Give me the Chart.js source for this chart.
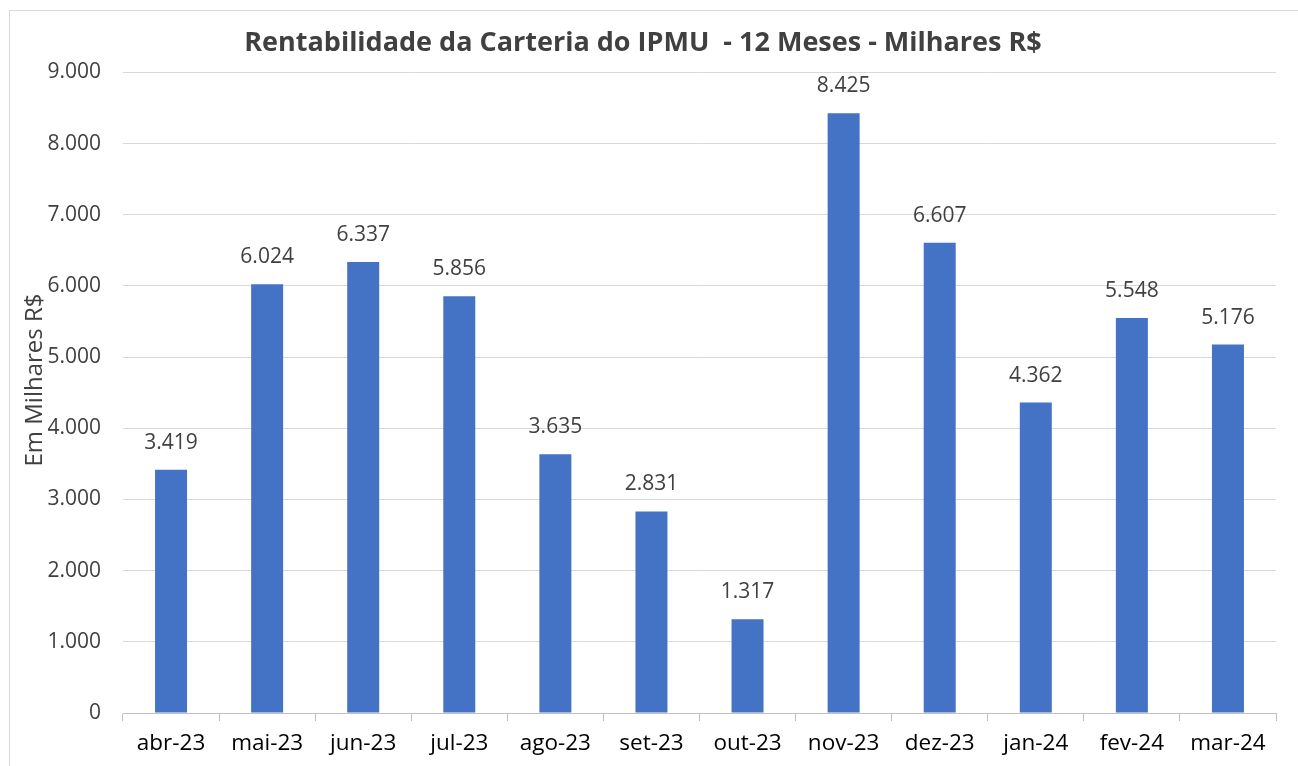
<!DOCTYPE html>
<html>
<head>
<meta charset="utf-8">
<script src="https://cdn.jsdelivr.net/npm/chart.js@4"></script>
<style>
  body{margin:0;background:#fff;overflow:hidden}
  #wrap{position:relative;width:1298px;height:766px}
  #frame{position:absolute;left:9px;top:10px;width:1300px;height:770px;border:1px solid #d9d9d9;box-sizing:border-box}
  canvas{position:absolute;left:0;top:0}
</style>
</head>
<body>
<div id="wrap">
  <div id="frame"></div>
  <canvas id="canvasRent" width="1298" height="766"></canvas>
</div>
<script>

let meses=['abr-23','mai-23','jun-23','jul-23','ago-23','set-23','out-23','nov-23','dez-23','jan-24','fev-24','mar-24']
let rentabilidade=[3419,6024,6337,5856,3635,2831,1317,8425,6607,4362,5548,5176]
let yTicks=[0,1000,2000,3000,4000,5000,6000,7000,8000,9000]

function fmt(v){
    return String(v).replace(/\B(?=(\d{3})+(?!\d))/g,'.')
}

let fonte='"Open Sans", sans-serif'

// valores em cima das barras + titulo do eixo y
let rotulos={
    id:'rotulos',
    afterDatasetsDraw(chart){
        let ctx=chart.ctx
        let meta=chart.getDatasetMeta(0)
        ctx.save()
        ctx.font='21px '+fonte
        ctx.fillStyle='#404040'
        ctx.textAlign='center'
        ctx.textBaseline='middle'
        meta.data.forEach(function(bar,i){
            ctx.fillText(fmt(rentabilidade[i]),bar.x,bar.y-27)
        })
        ctx.font='24px '+fonte
        ctx.translate(35,380)
        ctx.rotate(-Math.PI/2)
        ctx.fillText('Em Milhares R$',0,0)
        ctx.restore()
    }
}

let myChart={
    type:'bar',
    data:{
        labels:meses,
        datasets:[{
            label:'Rentabilidade',
            data:rentabilidade,
            backgroundColor:'#4472c4',
            barPercentage:0.333,
            categoryPercentage:1
        }]
    },
    options:{
        responsive:false,
        animation:false,
        layout:{padding:{left:10,right:22,bottom:0,top:0}},
        plugins:{
            legend:{display:false},
            tooltip:{enabled:false},
            title:{
                display:true,
                text:'Rentabilidade da Carteria do IPMU  - 12 Meses - Milhares R$',
                color:'#404040',
                font:{family:fonte,size:27,weight:'bold'},
                padding:{top:27,bottom:13}
            }
        },
        scales:{
            x:{
                grid:{display:true,offset:true,drawOnChartArea:false,tickLength:8,color:'#bfbfbf'},
                border:{color:'#bfbfbf'},
                ticks:{color:'#000',font:{family:fonte,size:22.5},padding:9},
                afterFit(s){s.height=53}
            },
            y:{
                min:0,
                max:9000,
                afterBuildTicks(s){s.ticks=yTicks.map(v=>({value:v}))},
                grid:{color:'#d9d9d9',drawTicks:false},
                border:{display:false},
                ticks:{color:'#404040',font:{family:fonte,size:21},padding:22,callback:v=>fmt(v)},
                afterFit(s){s.width=113}
            }
        }
    },
    plugins:[rotulos]
}

let ctx=document.getElementById('canvasRent').getContext('2d')
new Chart(ctx,myChart)

</script>
</body>
</html>
